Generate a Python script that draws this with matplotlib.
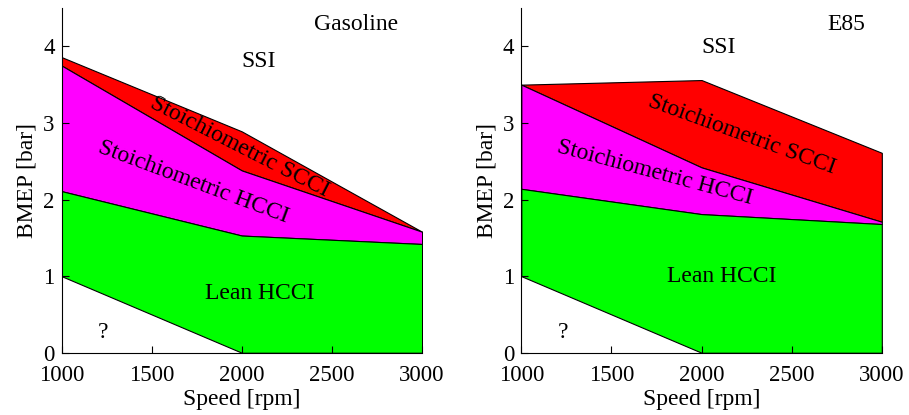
import matplotlib.pyplot as plt
import numpy as np

plt.rcParams['font.family'] = ['Liberation Serif', 'DejaVu Serif']

speed = [1000, 2000, 3000]

# Gasoline boundaries [bar]
gas_ssi = [3.86, 2.89, 1.58]
gas_scci = [3.75, 2.38, 1.58]
gas_hcci = [2.11, 1.53, 1.42]
gas_lean = [1.0, 0.0, 0.0]

# E85 boundaries [bar]
e85_ssi = [3.50, 3.56, 2.61]
e85_scci = [3.50, 2.42, 1.71]
e85_hcci = [2.14, 1.81, 1.68]
e85_lean = [1.0, 0.0, 0.0]

fs = 17

fig = plt.figure(figsize=(9.09, 4.15), dpi=100)
ax1 = fig.add_axes([0.0677, 0.150, 0.3966, 0.8306])
ax2 = fig.add_axes([0.5735, 0.150, 0.3966, 0.8306])


def draw(ax, ssi, scci, hcci, lean):
    ax.fill_between(speed, scci, ssi, facecolor='#ff0000', edgecolor='k', linewidth=0.8)
    ax.fill_between(speed, hcci, scci, facecolor='#ff00ff', edgecolor='k', linewidth=0.8)
    ax.fill_between(speed, lean, hcci, facecolor='#00ff00', edgecolor='k', linewidth=0.8)
    ax.set_xlim(1000, 3000)
    ax.set_ylim(0, 4.5)
    ax.set_xticks(np.arange(1000, 3001, 500))
    ax.set_yticks([0, 1, 2, 3, 4])
    ax.spines['top'].set_visible(False)
    ax.spines['right'].set_visible(False)
    ax.tick_params(direction='in', length=5, labelsize=16.5)
    ax.tick_params(axis='x', pad=9)
    ax.tick_params(axis='y', pad=5)
    ax.set_xlabel('Speed [rpm]', fontsize=fs, labelpad=2)
    ax.set_ylabel('BMEP [bar]', fontsize=fs, labelpad=4)


draw(ax1, gas_ssi, gas_scci, gas_hcci, gas_lean)
draw(ax2, e85_ssi, e85_scci, e85_hcci, e85_lean)

kw = dict(fontsize=fs, ha='center', va='center', rotation_mode='anchor')
ax1.text(2632, 4.28, 'Gasoline', **kw)
ax1.text(2096, 3.80, 'SSI', **kw)
ax1.text(1990, 2.69, 'Stoichiometric SCCI', rotation=-27, **kw)
ax1.text(1730, 2.23, 'Stoichiometric HCCI', rotation=-20.5, **kw)
ax1.text(2101, 0.78, 'Lean HCCI', **kw)
ax1.text(1231, 0.27, '?', **kw)

ax2.text(2803, 4.28, 'E85', **kw)
ax2.text(2097, 3.99, 'SSI', **kw)
ax2.text(2221, 2.85, 'Stoichiometric SCCI', rotation=-20, **kw)
ax2.text(1741, 2.35, 'Stoichiometric HCCI', rotation=-15, **kw)
ax2.text(2110, 0.99, 'Lean HCCI', **kw)
ax2.text(1233, 0.27, '?', **kw)

fig.savefig('out.png', dpi=100)
